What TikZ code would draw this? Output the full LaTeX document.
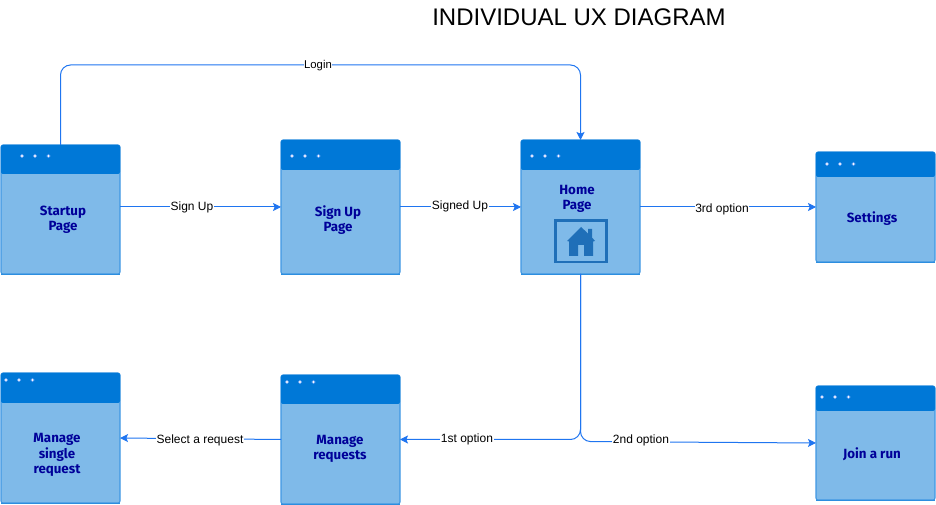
\documentclass[tikz,border=0pt]{standalone}
\usepackage{fontspec}
\setmainfont{Liberation Sans}
\newfontfamily\boxfont{Fira Sans}
\usetikzlibrary{arrows.meta}
\definecolor{headblue}{HTML}{0078D7}
\definecolor{bodyblue}{HTML}{7FBAE9}
\definecolor{edgeblue}{HTML}{3F97E3}
\definecolor{linkblue}{HTML}{1F75F0}
\definecolor{textnavy}{HTML}{000099}
\definecolor{iconblue}{HTML}{1F6FB8}
\tikzset{
  x=0.75pt,y=-0.75pt,
  winbody/.style={draw=edgeblue,fill=bodyblue,line width=0.8pt,rounded corners=1.5pt,inner sep=0pt,outer sep=0pt,anchor=north west},
  windot/.style={circle,fill=white,draw=linkblue!70,line width=0.3pt,inner sep=0pt,minimum size=2.6pt},
  wintext/.style={font=\boxfont\bfseries\fontsize{10}{12}\selectfont,text=textnavy,align=center,inner sep=0pt},
  link/.style={draw=linkblue,line width=0.75pt,-{Triangle[length=6pt,width=6pt,inset=1.2pt]},rounded corners=7.5pt},
  linklabel/.style={font=\fontsize{9}{11}\selectfont,fill=white,inner sep=0.4pt,text=black},
}
% name, x0, y0, x1, y1, header bottom, first dot x, dot y
\newcommand{\windowbox}[8]{%
  \node[winbody,minimum width=#4*0.75pt-#2*0.75pt,minimum height=#5*0.75pt-#3*0.75pt] (#1) at (#2,#3) {};
  \fill[headblue,rounded corners=1.5pt] (#2,#3) -- (#4,#3) -- (#4,#6) -- (#2,#6) -- cycle;
  \draw[edgeblue!70!headblue,line width=0.6pt] (#2,#5) -- (#4,#5);
  \node[windot] (#1d1) at (#7,#8) {};
  \node[windot] (#1d2) at (#7+13,#8) {};
  \node[windot] (#1d3) at (#7+26.5,#8) {};
}
\begin{document}
\begin{tikzpicture}
\useasboundingbox (0,0) rectangle (936,505);
\node[font=\fontsize{18}{22}\selectfont,inner sep=0pt] (title) at (579,17) {INDIVIDUAL UX DIAGRAM};

\windowbox{startup}{1}{145}{120}{274}{174}{22}{156}
\windowbox{signup}{281}{140}{400}{274}{170}{292}{156}
\windowbox{home}{521}{140}{640}{274}{170}{532}{156}
\windowbox{settings}{816}{152}{935}{262}{177}{827}{164}
\windowbox{join}{816}{386}{935}{500}{411}{822}{397}
\windowbox{requests}{281}{375}{400}{504}{404}{287}{382}
\windowbox{single}{1}{373}{120}{503}{403}{6}{380}

\node[wintext] (startuptext) at (63,220) {Startup\\[-0.5pt]Page};
\node[wintext] (signuptext) at (338,220) {Sign Up\\[-0.5pt]Page};
\node[wintext] (hometext) at (577,199) {Home\\[-0.5pt]Page};
\node[wintext] (settingstext) at (872,219) {Settings};
\node[wintext] (jointext) at (872,454) {Join a run};
\node[wintext] (requeststext) at (340,449) {Manage\\[-0.5pt]requests};
\node[wintext] (singletext) at (57,455) {Manage\\[-0.5pt]single\\[-0.5pt]request};

% home icon
\draw[iconblue,line width=1.6pt] (555.5,220.5) rectangle (606.5,262);
\fill[iconblue] (581,227) -- (588,233.5) -- (588,229) -- (592,229) -- (592,237.5) -- (595,241) -- (593,241.5) -- (593,256) -- (584,256) -- (584,245) -- (578,245) -- (578,256) -- (569,256) -- (569,241.5) -- (567,241) -- cycle;

% connectors
\coordinate (loginB) at (60.5,65);
\coordinate (loginC) at (580.5,65);
\draw[link] (startup.north) -- (loginB) -- (loginC) -- (home.north);
\node[linklabel] (loginlabel) at (318,65.5) {\fontsize{8.5}{10}\selectfont Login};

\draw[link] (startup.east |- signup.west) -- (signup.west);
\node[linklabel] (signuplabel) at (192,207.5) {Sign Up};

\draw[link] (signup.east) -- (home.west);
\node[linklabel] (signeduplabel) at (460,206.5) {Signed Up};

\draw[link] (home.east) -- (settings.west);
\node[linklabel] (thirdlabel) at (722,209.5) {3rd option};

\coordinate (branchL) at (580.5,439.5);
\coordinate (branchR) at (580.5,441.5);
\draw[link] (home.south) -- (branchL) -- (requests.east);
\node[linklabel] (firstlabel) at (467,439.5) {1st option};
\draw[link] (home.south) -- (branchR) -- (join.west);
\node[linklabel] (secondlabel) at (641,440.5) {2nd option};

\draw[link] (requests.west) -- (single.east);
\node[linklabel] (selectlabel) at (200,440.5) {Select a request};
\end{tikzpicture}
\end{document}
